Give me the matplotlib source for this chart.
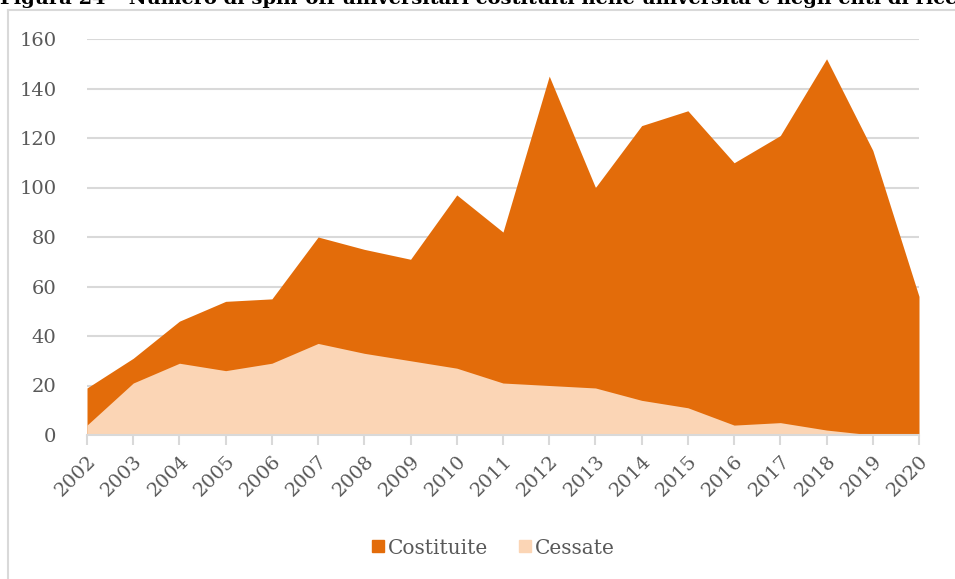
import numpy as np
import matplotlib.pyplot as plt
from matplotlib.lines import Line2D

# --- Data ---
years = list(range(2002, 2021))
costituite = [19, 31, 46, 54, 55, 80, 75, 71, 97, 82, 145, 100, 125, 131, 110, 121, 152, 115, 56]
cessate = [4, 21, 29, 26, 29, 37, 33, 30, 27, 21, 20, 19, 14, 11, 4, 5, 2, 0, 0]

title = "Figura 24 – Numero di spin-off universitari costituiti nelle università e negli enti di ricerca"

dark_orange = "#E36C0A"
light_orange = "#FBD5B5"
grid_grey = "#D9D9D9"
text_grey = "#595959"

plt.rcParams["font.family"] = ["DejaVu Serif"]

fig = plt.figure(figsize=(9.55, 5.79), dpi=100)
ax = fig.add_axes([87 / 955, 1 - 435 / 579, (919 - 87) / 955, (435 - 39) / 579])

# Overlapping (not stacked) areas, as in the Excel original
ax.fill_between(years, 0, costituite, color=dark_orange, linewidth=0, zorder=2)
ax.fill_between(years, 0, cessate, color=light_orange, linewidth=0, zorder=3)

ax.set_xlim(years[0], years[-1])
ax.set_ylim(0, 160)
ax.set_yticks(np.arange(0, 161, 20))
ax.set_xticks(years)
ax.set_xticklabels([str(y) for y in years], rotation=45, ha="right",
                   rotation_mode="anchor")

ax.grid(axis="y", color=grid_grey, linewidth=1.5, zorder=1)
ax.set_axisbelow(True)
for side in ["left", "right", "top"]:
    ax.spines[side].set_visible(False)
ax.spines["bottom"].set_color(grid_grey)
ax.spines["bottom"].set_linewidth(1.5)
ax.spines["bottom"].set_zorder(4)

ax.tick_params(axis="y", length=0, pad=22, labelsize=14, labelcolor=text_grey)
ax.tick_params(axis="x", length=7, width=1.5, color=grid_grey, pad=5,
               labelsize=14, labelcolor=text_grey)

# Legend
handles = [
    Line2D([], [], marker="s", linestyle="", markersize=9, color=dark_orange),
    Line2D([], [], marker="s", linestyle="", markersize=9, color=light_orange),
]
fig.legend(handles, ["Costituite", "Cessate"], loc="center",
           bbox_to_anchor=(0.515, 1 - 548 / 579), ncol=2, frameon=False,
           fontsize=14.5, labelcolor=text_grey, handletextpad=0.05,
           columnspacing=1.4, handlelength=0.9)

# Outer chart frame (only top and left visible in the crop)
fig.add_artist(Line2D([8 / 955, 8 / 955], [0, 1 - 10 / 579],
                      transform=fig.transFigure, color=grid_grey, linewidth=1.5))
fig.add_artist(Line2D([8 / 955, 1], [1 - 10 / 579, 1 - 10 / 579],
                      transform=fig.transFigure, color=grid_grey, linewidth=1.5))

# Cut-off caption at the top (cropped in the reference too)
fig.text(0.0, 1 - 4 / 579, title, fontsize=14, fontweight="bold",
         va="baseline", ha="left", color="black")

fig.savefig("out.png", dpi=100)
